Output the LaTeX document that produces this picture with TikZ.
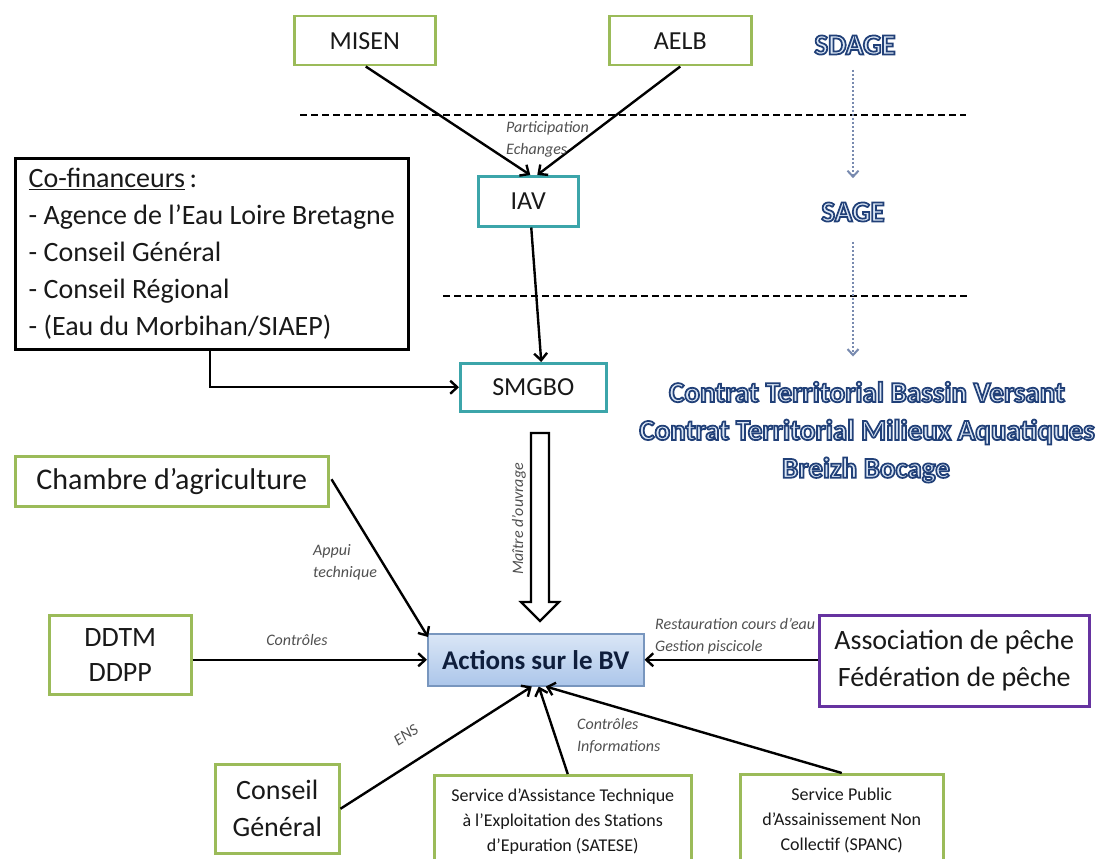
\documentclass[tikz,border=0pt]{standalone}
\usepackage{fontspec}
\setmainfont{Carlito}
\newfontfamily\outlinefont{Carlito}[BoldFeatures={FakeBold=6}]
\usetikzlibrary{arrows.meta,calc}
\definecolor{boxgreen}{RGB}{155,187,89}
\definecolor{boxteal}{RGB}{60,165,170}
\definecolor{boxpurple}{RGB}{102,51,160}
\definecolor{lblgray}{RGB}{80,80,80}
\definecolor{txtdark}{RGB}{25,25,25}
\definecolor{olight}{RGB}{220,231,245}
\definecolor{acttop}{RGB}{218,230,246}
\definecolor{actbot}{RGB}{172,198,234}
\definecolor{actborder}{RGB}{120,150,190}
\definecolor{actText}{RGB}{15,30,60}
\definecolor{dotblue}{RGB}{120,138,175}
\newcommand\ostroke{\special{pdf:code 0.13 0.25 0.47 RG}}
\tikzset{
  basebox/.style={line width=2.5pt, inner sep=0pt, align=center, anchor=north west, text=txtdark},
  gbox/.style={basebox, draw=boxgreen, font=\fontsize{28}{37}\selectfont},
  sbox/.style={basebox, draw=boxgreen, font=\fontsize{18}{25}\selectfont},
  tbox/.style={basebox, draw=boxteal, font=\fontsize{26}{36}\selectfont},
  pbox/.style={basebox, draw=boxpurple, font=\fontsize{28}{37}\selectfont},
  kbox/.style={basebox, draw=black, font=\fontsize{28}{37}\selectfont, align=left},
  abox/.style={basebox, draw=actborder, line width=1.5pt, top color=acttop, bottom color=actbot,
    font=\bfseries\fontsize{27}{30}\selectfont, text=actText},
  lbl/.style={font=\itshape\fontsize{16}{22}\selectfont, text=lblgray, align=left, inner sep=0pt},
  conn/.style={line width=2.4pt, -{Straight Barb[length=7pt,width=13pt]}},
  dotconn/.style={draw=dotblue, line width=2pt, dash pattern=on 2pt off 2pt,
    -{Straight Barb[length=6pt,width=11pt,line width=2pt]}},
  sepline/.style={line width=1.6pt, dash pattern=on 7pt off 4pt},
  otxt/.style={inner sep=0pt, text=olight, font=\outlinefont\bfseries\fontsize{29}{29}\selectfont}
}
\begin{document}
\begin{tikzpicture}[x=1pt,y=-1pt]
\useasboundingbox[fill=white] (0,0) rectangle (1101,859);

% separators
\draw[sepline] (300,115) -- (966,115);
\draw[sepline] (443,296) -- (968,296);

% boxes
\node[tbox, draw=boxgreen, minimum width=141, minimum height=49] (misen) at (293,15) {MISEN};
\node[tbox, draw=boxgreen, minimum width=142, minimum height=49] (aelb) at (608,15) {AELB};
\node[tbox, minimum width=100, minimum height=50] (iav) at (477,175) {IAV};
\node[tbox, minimum width=146, minimum height=48] (smgbo) at (459,362) {SMGBO};
\node[kbox, minimum width=393, minimum height=191] (cofin) at (14,157)
  {\underline{Co-financeurs}\,:\\- Agence de l’Eau Loire Bretagne\\- Conseil Général\\- Conseil Régional\\- (Eau du Morbihan/SIAEP)};
\node[gbox, minimum width=313, minimum height=50, font=\fontsize{30}{37}\selectfont] (chambre) at (14,455) {Chambre d’agriculture};
\node[abox, minimum width=216, minimum height=52] (actions) at (427,633) {Actions sur le BV};
\node[gbox, minimum width=142, minimum height=79, font=\fontsize{28}{35}\selectfont] (ddtm) at (48,614) {DDTM\\DDPP};
\node[pbox, minimum width=270, minimum height=91] (assoc) at (818,614) {Association de pêche\\Fédération de pêche};
\node[gbox, minimum width=124, minimum height=89] (conseil) at (214,763) {Conseil\\Général};
\node[sbox, minimum width=257, minimum height=92] (satese) at (433,774)
  {Service d’Assistance Technique\\à l’Exploitation des Stations\\d’Epuration (SATESE)};
\node[sbox, minimum width=203, minimum height=93] (spanc) at (739,773)
  {Service Public\\d’Assainissement Non\\Collectif (SPANC)};

% outlined titles
\node[otxt] (sdage) at (855,45) {\ostroke SDAGE};
\node[otxt] (sage) at (853,212) {\ostroke SAGE};
\node[otxt] (ct1) at (867,392) {\ostroke Contrat Territorial Bassin Versant};
\node[otxt] (ct2) at (867,432) {\ostroke Contrat Territorial Milieux Aquatiques};
\node[otxt] (ct3) at (866,470) {\ostroke Breizh Bocage};

% dotted hierarchy arrows
\draw[dotconn] ($(sdage.south)+(-2,15)$) -- ($(sage.north)+(0,-24)$);
\draw[dotconn] ($(sage.south)+(0,20)$) -- ($(ct1.north)+(-14,-25)$);

% connectors
\draw[conn] ($(misen.south)+(1,0)$) -- ($(iav.north)+(2,0)$);
\draw[conn] (aelb.south) -- ($(iav.north)+(9,0)$);
\draw[conn] ($(iav.south)+(3,0)$) -- ($(smgbo.north)+(8,0)$);
\draw[conn] ($(cofin.south west)+(196,0)$) |- (smgbo.west);
\draw[conn] ($(chambre.east)+(2,-2)$) -- ($(actions.north west)+(1,4)$);
\draw[conn] (ddtm.east |- actions.west) -- (actions.west);
\draw[conn] (assoc.west |- actions.east) -- (actions.east);
\draw[conn] (conseil.east) -- ($(actions.south)+(-4,0)$);
\draw[conn] ($(satese.north)+(5,0)$) -- ($(actions.south)+(3,0)$);
\draw[conn] (spanc.north) -- ($(actions.south)+(10,0)$);

% hollow arrow
\draw[line width=2.2pt, fill=white, line join=miter]
  (531,433) -- (549,433) -- (549,602) -- (559,602) -- (540,621) -- (521,602) -- (531,602) -- cycle;

% labels
\node[lbl, anchor=west] (lpart) at (506,139) {Participation\\Echanges};
\node[lbl, anchor=west] (lappui) at (313,562) {Appui\\technique};
\node[lbl] (lctrl) at (297,640) {Contrôles};
\node[lbl, anchor=west] (lrest) at (655,636) {Restauration cours d’eau\\Gestion piscicole};
\node[lbl, rotate=33] (lens) at (406,735) {ENS};
\node[lbl, anchor=west] (lci) at (577,736) {Contrôles\\Informations};
\node[lbl, rotate=90] (lmo) at (519,519) {Maître d’ouvrage};
\end{tikzpicture}
\end{document}
